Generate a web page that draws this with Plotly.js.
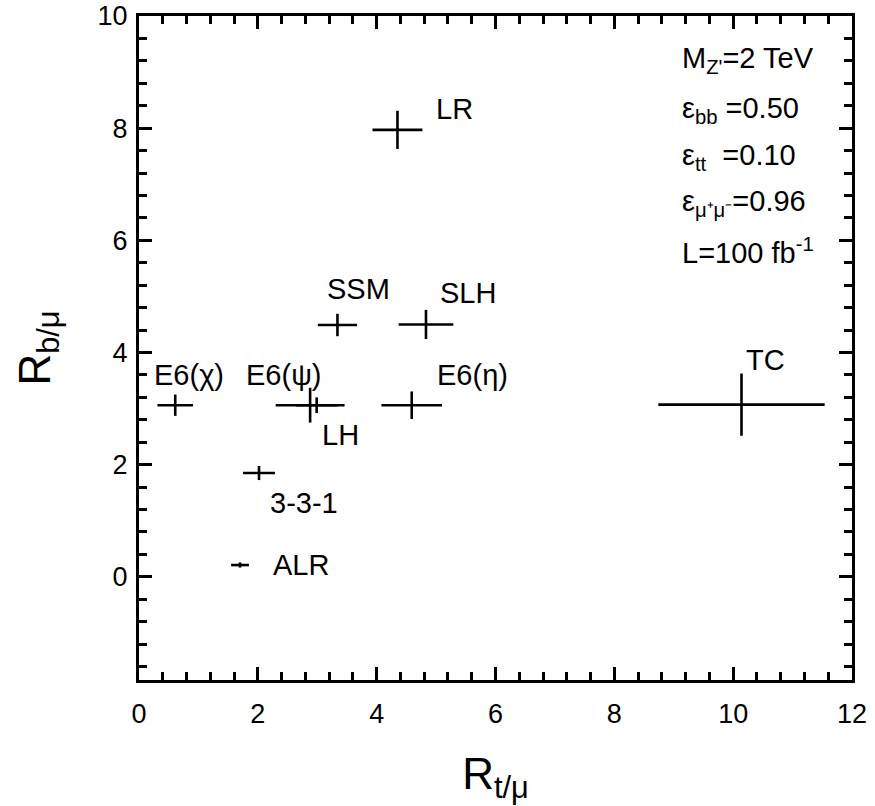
<!DOCTYPE html>
<html>
<head>
<meta charset="utf-8">
<script src="https://cdn.plot.ly/plotly-3.0.1.min.js"></script>
<style>html,body{margin:0;padding:0;background:#fff;}#chart{width:875px;height:806px;}</style>
</head>
<body>
<div id="chart"></div>
<script>
// ---- data ----
const models = ['LR', 'SSM', 'SLH', 'E6(χ)', 'E6(ψ)', 'LH', 'E6(η)', 'TC', '3-3-1', 'ALR'];
const rTmu    = [4.35, 3.34, 4.83, 0.61, 2.88, 2.99, 4.59, 10.14, 2.02, 1.70];
const rTmuErr = [0.42, 0.33, 0.46, 0.30, 0.58, 0.35, 0.51, 1.40, 0.27, 0.15];
const rBmu    = [7.97, 4.49, 4.50, 3.06, 3.06, 3.06, 3.06, 3.07, 1.85, 0.21];
const rBmuErr = [0.34, 0.20, 0.26, 0.19, 0.31, 0.14, 0.245, 0.555, 0.125, 0.045];

const infoLines = ["M<sub>Z'</sub>=2 TeV", "ε<sub>bb</sub> =0.50", "ε<sub>tt</sub>  =0.10", "ε<sub>μ⁺μ⁻</sub>=0.96", "L=100 fb<sup>-1</sup>"];

// ---- label placement (pixel offsets from each point) ----
const labelOffsets = {
  'LR': [57, 21], 'SSM': [21, 36], 'SLH': [42, 31], 'E6(χ)': [14, 30], 'E6(ψ)': [-27, 30],
  'LH': [24, -30], 'E6(η)': [61, 30], 'TC': [24, 45], '3-3-1': [45, -30], 'ALR': [61, 0]
};

const FONT = 'Liberation Sans, Arial, Helvetica, sans-serif';
const XR = [0, 12], YR = [-1.84, 10];

const trace = {
  type: 'scatter', mode: 'markers',
  x: rTmu, y: rBmu, text: models,
  marker: {size: 1, color: 'rgba(0,0,0,0)'},
  error_x: {type: 'data', array: rTmuErr, visible: true, color: '#000', thickness: 2.6, width: 0},
  error_y: {type: 'data', array: rBmuErr, visible: true, color: '#000', thickness: 2.6, width: 0},
  hoverinfo: 'text', showlegend: false
};

const annotations = models.map((m, i) => ({
  x: rTmu[i], y: rBmu[i], xref: 'x', yref: 'y', text: m, showarrow: false,
  xanchor: 'center', yanchor: 'middle',
  xshift: labelOffsets[m][0], yshift: labelOffsets[m][1],
  font: {family: FONT, size: 29, color: '#000'}
}));

const infoY = [0.933, 0.859, 0.788, 0.719, 0.646];
infoLines.forEach((t, i) => annotations.push({
  x: 0.759, y: infoY[i], xref: 'paper', yref: 'paper', text: t, showarrow: false,
  xanchor: 'left', yanchor: 'middle', font: {family: FONT, size: 29, color: '#000'}
}));

const axisCommon = {
  showgrid: false, zeroline: false, showline: true, linecolor: '#000', linewidth: 3,
  mirror: 'allticks', ticks: 'inside', ticklen: 13, tickwidth: 3, tickcolor: '#000',
  tickfont: {family: FONT, size: 27, color: '#000'},
  minor: {ticks: 'inside', dtick: 0.4, tick0: 0, ticklen: 8, tickwidth: 3, tickcolor: '#000'}
};

const layout = {
  width: 875, height: 806,
  margin: {l: 139, r: 23, t: 16, b: 126},
  paper_bgcolor: '#fff', plot_bgcolor: '#fff',
  xaxis: Object.assign({}, axisCommon, {
    range: XR, tick0: 0, dtick: 2, ticklabelstandoff: 8,
    title: {text: 'R<sub>t/μ</sub>', font: {family: FONT, size: 44, color: '#000'}, standoff: 30}
  }),
  yaxis: Object.assign({}, axisCommon, {
    range: YR, tick0: 0, dtick: 2, ticklabelstandoff: 3,
    title: {text: 'R<sub>b/μ</sub>', font: {family: FONT, size: 44, color: '#000'}, standoff: 34}
  }),
  annotations: annotations
};

Plotly.newPlot('chart', [trace], layout, {displayModeBar: false, staticPlot: true});
</script>
</body>
</html>
